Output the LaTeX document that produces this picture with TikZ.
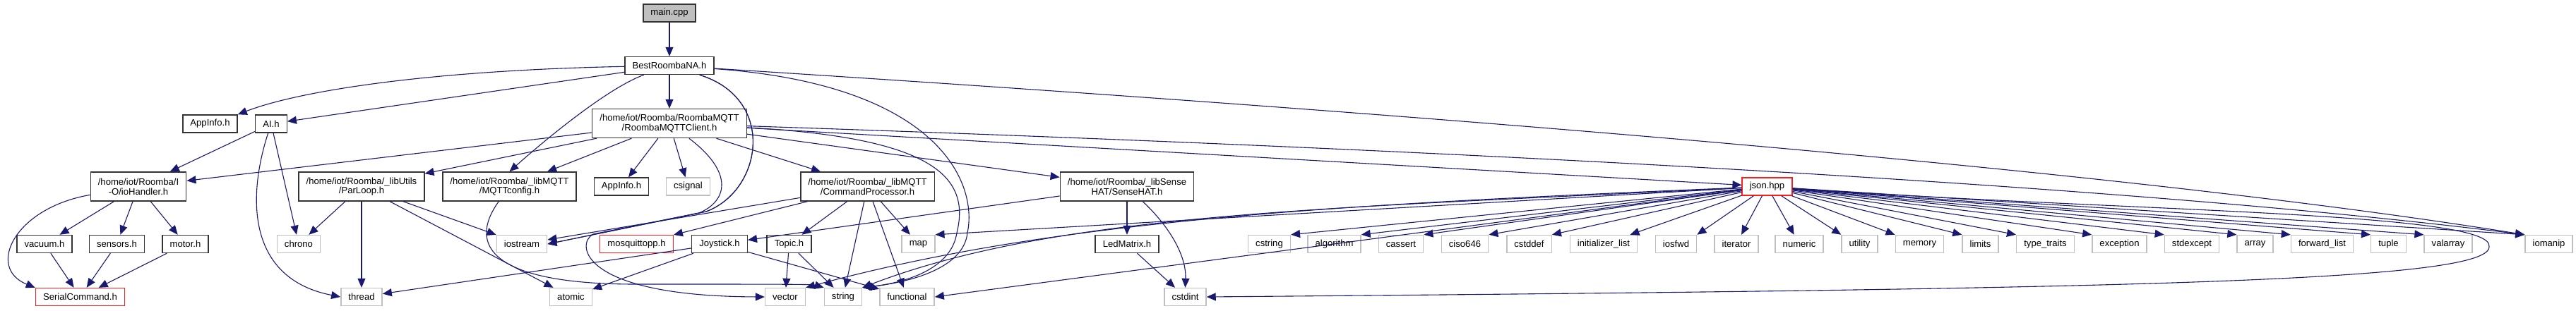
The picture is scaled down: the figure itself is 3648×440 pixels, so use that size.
\documentclass[tikz,border=0pt]{standalone}
\usepackage{fontspec}
\setmainfont{Liberation Sans}
\usepackage{tikz}
\usetikzlibrary{arrows.meta}
\definecolor{edgeblue}{RGB}{25, 25, 112}
\definecolor{sysgray}{RGB}{191, 191, 191}
\definecolor{missred}{RGB}{250, 30, 30}
\newcommand{\hdrfont}{\fontsize{6.55pt}{6.85pt}\selectfont}

\begin{document}
\begin{tikzpicture}[x=0.5pt, y=-0.5pt,
  hdr/.style={rectangle, draw=black!80, fill=white, line width=0.7pt,
    font=\hdrfont, inner xsep=5.3pt, inner ysep=2pt, minimum height=12.5pt},
  hdrtwo/.style={hdr, align=center, minimum height=20.5pt},
  sys/.style={hdr, draw=sysgray},
  missing/.style={hdr, draw=missred},
  dep/.style={-{Triangle[length=6.5pt, width=5.5pt]}, draw=edgeblue, line width=0.55pt}
]
  \useasboundingbox (0,0) rectangle (3648,440);

  % top
  \node[hdr, fill=sysgray] (main) at (948,18.5) {main.cpp};
  \node[hdr] (best) at (948,93) {BestRoombaNA.h};

  % second row
  \node[hdr] (appinfoA) at (297.5,175.5) {AppInfo.h};
  \node[hdr] (ai) at (384,175.5) {AI.h};
  \node[hdrtwo] (rmqtt) at (948,175) {/home/iot/Roomba/RoombaMQTT\\/RoombaMQTTClient.h};

  % third row
  \node[hdrtwo] (iohandler) at (196,264.5) {/home/iot/Roomba/I\\-O/ioHandler.h};
  \node[hdrtwo] (parloop) at (512,264.5) {/home/iot/Roomba/\_libUtils\\/ParLoop.h};
  \node[hdrtwo] (mqttcfg) at (721.5,264.5) {/home/iot/Roomba/\_libMQTT\\/MQTTconfig.h};
  \node[hdr] (appinfoB) at (880,264.5) {AppInfo.h};
  \node[sys] (csignal) at (974.5,264.5) {csignal};
  \node[hdrtwo] (cmdproc) at (1228.5,264.5) {/home/iot/Roomba/\_libMQTT\\/CommandProcessor.h};
  \node[hdrtwo] (sensehat) at (1596,264.5) {/home/iot/Roomba/\_libSense\\HAT/SenseHAT.h};
  \node[missing] (json) at (2502.5,264.5) {json.hpp};

  % fourth row
  \node[hdr] (vacuum) at (63,346) {vacuum.h};
  \node[hdr] (sensors) at (165.5,346) {sensors.h};
  \node[hdr] (motor) at (262.5,346) {motor.h};
  \node[sys] (chrono) at (423,346) {chrono};
  \node[sys] (iostream) at (739,346) {iostream};
  \node[missing] (mosq) at (901.5,346) {mosquittopp.h};
  \node[hdr] (joystick) at (1019,346) {Joystick.h};
  \node[hdr] (topic) at (1117.5,346) {Topic.h};
  \node[sys] (map) at (1300.5,346) {map};
  \node[hdr] (ledmatrix) at (1596,346) {LedMatrix.h};
  \node[sys] (cstring) at (1797.5,346) {cstring};
  \node[sys] (algorithm) at (1889.5,346) {algorithm};
  \node[sys] (cassert) at (1984,346) {cassert};
  \node[sys] (ciso646) at (2074.5,346) {ciso646};
  \node[sys] (cstddef) at (2165.5,346) {cstddef};
  \node[sys] (initlist) at (2271,346) {initializer\_list};
  \node[sys] (iosfwd) at (2373.5,346) {iosfwd};
  \node[sys] (iterator) at (2459,346) {iterator};
  \node[sys] (numeric) at (2548,346) {numeric};
  \node[sys] (utility) at (2633.5,346) {utility};
  \node[sys] (memory) at (2718.5,346) {memory};
  \node[sys] (limits) at (2804.5,346) {limits};
  \node[sys] (typetraits) at (2896.5,346) {type\_traits};
  \node[sys] (exception) at (3001.5,346) {exception};
  \node[sys] (stdexcept) at (3104,346) {stdexcept};
  \node[sys] (array) at (3193.5,346) {array};
  \node[sys] (fwdlist) at (3288.5,346) {forward\_list};
  \node[sys] (tuple) at (3382.5,346) {tuple};
  \node[sys] (valarray) at (3467,346) {valarray};
  \node[sys] (iomanip) at (3609.5,346) {iomanip};

  % bottom row
  \node[missing] (serialcmd) at (113.5,421) {SerialCommand.h};
  \node[sys] (thread) at (512,421) {thread};
  \node[sys] (atomic) at (808.5,421) {atomic};
  \node[sys] (vector) at (1112,421) {vector};
  \node[sys] (string) at (1194,421) {string};
  \node[sys] (functional) at (1284.5,421) {functional};
  \node[sys] (cstdint) at (1678.5,421) {cstdint};

  % main and BestRoombaNA
  \draw[dep] (main) -- (best);
  \draw[dep] (best) .. controls (600,100) and (420,130) .. (appinfoA.north east);
  \draw[dep] (best) -- (ai);
  \draw[dep] (best) -- (rmqtt);
  \draw[dep] (best) .. controls (860,125) and (770,200) .. (mqttcfg.north);
  \draw[dep] (best) .. controls (1100,140) and (1080,270) .. (1000,300) -- (iostream.east);
  \draw[dep] (best) .. controls (1100,140) and (1080,270) .. (1000,300) -- (840,332)
    .. controls (815,345) and (820,420) .. (vector.west);
  \draw[dep] (best) .. controls (1330,120) and (1385,260) .. (1370,330)
    .. controls (1365,380) and (1290,400) .. (string.north east);
  \draw[dep] (best) .. controls (2000,160) and (3000,240) .. (iomanip.north west);

  % AI.h
  \draw[dep] (ai) -- (iohandler);
  \draw[dep] (ai) -- (chrono);
  \draw[dep] (ai) .. controls (350,280) and (350,395) .. (thread.west);

  % RoombaMQTTClient.h
  \draw[dep] (rmqtt) -- (iohandler);
  \draw[dep] (rmqtt) -- (parloop);
  \draw[dep] (rmqtt) -- (mqttcfg);
  \draw[dep] (rmqtt) -- (appinfoB);
  \draw[dep] (rmqtt) -- (csignal);
  \draw[dep] (rmqtt) .. controls (1040,245) and (1030,285) .. (990,302) -- (iostream.east);
  \draw[dep] (rmqtt) -- (cmdproc);
  \draw[dep] (rmqtt) -- (sensehat);
  \draw[dep] (rmqtt) -- (json);
  \draw[dep] (rmqtt) .. controls (1320,195) and (1375,250) .. (1355,330)
    .. controls (1348,378) and (1290,400) .. (string.north east);
  \draw[dep] (rmqtt) .. controls (2000,210) and (3000,260) .. (iomanip.north west);

  % ioHandler.h
  \draw[dep] (iohandler) -- (vacuum);
  \draw[dep] (iohandler) -- (sensors);
  \draw[dep] (iohandler) -- (motor);
  \draw[dep] (iohandler) .. controls (20,295) and (-20,380) .. (serialcmd.north west);
  \draw[dep] (vacuum) -- (serialcmd);
  \draw[dep] (sensors) -- (serialcmd);
  \draw[dep] (motor) -- (serialcmd);

  % ParLoop.h
  \draw[dep] (parloop) -- (chrono);
  \draw[dep] (parloop) -- (thread);
  \draw[dep] (parloop) -- (atomic);
  \draw[dep] (parloop) -- (iostream);

  % MQTTconfig.h
  \draw[dep] (mqttcfg) .. controls (660,350) and (700,403) .. (900,403)
    .. controls (1100,403) and (1150,403) .. (string.north west);

  % CommandProcessor.h
  \draw[dep] (cmdproc) -- (iostream);
  \draw[dep] (cmdproc) -- (mosq);
  \draw[dep] (cmdproc) -- (topic);
  \draw[dep] (cmdproc) -- (string);
  \draw[dep] (cmdproc) -- (map);
  \draw[dep] (cmdproc) -- (functional);

  % Joystick.h and Topic.h
  \draw[dep] (joystick) -- (thread);
  \draw[dep] (joystick) -- (atomic);
  \draw[dep] (joystick) -- (functional);
  \draw[dep] (topic) -- (vector);
  \draw[dep] (topic) -- (string);

  % SenseHAT.h
  \draw[dep] (sensehat) -- (joystick);
  \draw[dep] (sensehat) -- (ledmatrix);
  \draw[dep] (sensehat) .. controls (1665,330) and (1680,370) .. (cstdint.north);
  \draw[dep] (ledmatrix) -- (cstdint);

  % json.hpp
  \draw[dep] (json) -- (map.north east);
  \draw[dep] (json) .. controls (1900,290) and (1500,310) .. (vector.north east);
  \draw[dep] (json) .. controls (1900,295) and (1500,300) .. (string.north east);
  \draw[dep] (json) -- (functional.east);
  \draw[dep] (json) .. controls (3000,300) and (3535,300) .. (3525,350)
    .. controls (3525,400) and (3000,410) .. (cstdint.east);
  \draw[dep] (json) -- (cstring.north east);
  \draw[dep] (json) -- (algorithm.north east);
  \draw[dep] (json) -- (cassert.north east);
  \draw[dep] (json) -- (ciso646.north east);
  \draw[dep] (json) -- (cstddef.north east);
  \draw[dep] (json) -- (initlist);
  \draw[dep] (json) -- (iosfwd.north east);
  \draw[dep] (json) -- (iterator);
  \draw[dep] (json) -- (numeric);
  \draw[dep] (json) -- (utility.north west);
  \draw[dep] (json) -- (memory.north west);
  \draw[dep] (json) -- (limits.north west);
  \draw[dep] (json) -- (typetraits.north west);
  \draw[dep] (json) -- (exception.north west);
  \draw[dep] (json) -- (stdexcept.north west);
  \draw[dep] (json) -- (array.north west);
  \draw[dep] (json) -- (fwdlist.north west);
  \draw[dep] (json) -- (tuple.north west);
  \draw[dep] (json) -- (valarray.north west);
  \draw[dep] (json) -- (iomanip.north west);
\end{tikzpicture}
\end{document}
